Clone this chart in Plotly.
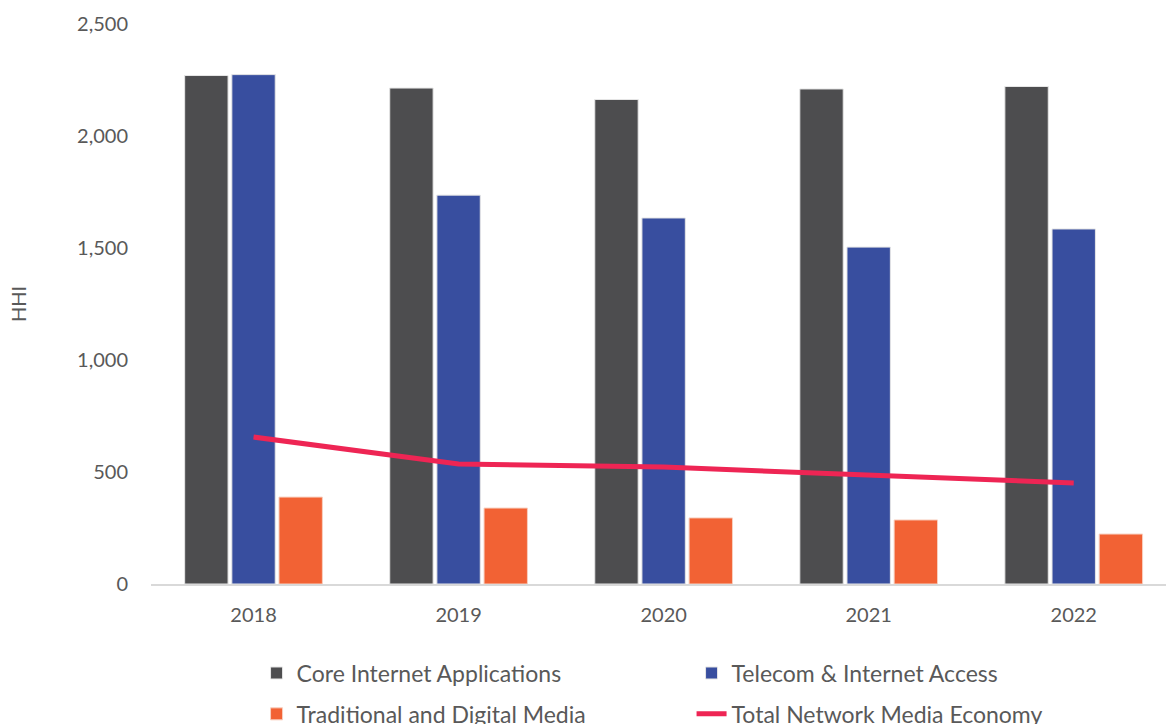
import plotly.graph_objects as go

years = ["2018", "2019", "2020", "2021", "2022"]
core = [2270, 2214, 2163, 2210, 2221]
telecom = [2274, 1736, 1634, 1504, 1585]
media = [388, 339, 295, 286, 223]
total = [656, 536, 522, 484, 451]

FONT = "Lato"
TXT = "#595959"

fig = go.Figure()
fig.add_trace(go.Bar(x=years, y=core, name="Core Internet Applications",
                     marker=dict(color="#4d4d4f", line=dict(color="#e6e6e6", width=1)),
                     legend="legend"))
fig.add_trace(go.Bar(x=years, y=telecom, name="Telecom & Internet Access",
                     marker=dict(color="#384e9f", line=dict(color="#e6e6e6", width=1)),
                     legend="legend"))
fig.add_trace(go.Bar(x=years, y=media, name="Traditional and Digital Media",
                     marker=dict(color="#f26234", line=dict(color="#f8d0c0", width=1)),
                     legend="legend2"))
fig.add_trace(go.Scatter(x=years, y=total, name="Total Network Media Economy",
                         mode="lines", line=dict(color="#ee2554", width=5),
                         legend="legend2"))

leg = dict(orientation="h", xanchor="left", yanchor="middle",
           entrywidth=390, entrywidthmode="pixels",
           font=dict(size=23, color=TXT, family=FONT), bgcolor="rgba(0,0,0,0)")

fig.update_layout(
    width=1166, height=724,
    margin=dict(l=151, r=0, t=24, b=140, autoexpand=False),
    paper_bgcolor="white", plot_bgcolor="white",
    font=dict(family=FONT, color=TXT, size=20),
    barmode="group", bargap=0.31, bargroupgap=0.08,
    showlegend=True,
    legend=dict(leg, x=0.104, y=-0.159),
    legend2=dict(leg, x=0.104, y=-0.232),
)
fig.update_xaxes(type="category", range=[-0.5, 4.45], showgrid=False,
                 showline=True, linecolor="#d9d9d9", linewidth=2,
                 ticks="", tickfont=dict(size=20, color=TXT), ticklabelstandoff=12)
fig.update_yaxes(range=[0, 2500], tickvals=[0, 500, 1000, 1500, 2000, 2500],
                 tickformat=",", showgrid=False, showline=False, zeroline=False,
                 ticks="", ticklabelstandoff=22, tickfont=dict(size=20, color=TXT),
                 title=dict(text="HHI", font=dict(size=20, color=TXT), standoff=45))

fig.write_html("out.html")
